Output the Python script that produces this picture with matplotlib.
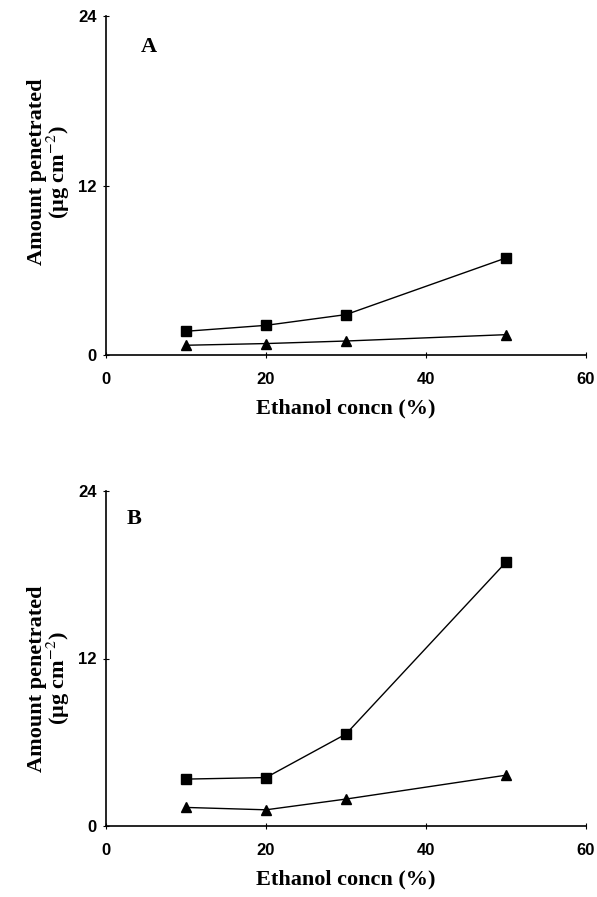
import matplotlib
matplotlib.use('Agg')
import matplotlib.pyplot as plt

plt.rcParams['mathtext.fontset'] = 'stix'

# ethanol concentration (%)
conc = [10, 20, 30, 50]

# panel A
a_square = [1.68, 2.10, 2.86, 6.87]
a_triangle = [0.69, 0.81, 0.99, 1.44]

# panel B
b_square = [3.36, 3.47, 6.59, 18.9]
b_triangle = [1.33, 1.16, 1.93, 3.64]

xticks = [0, 20, 40, 60]
yticks = [0, 12, 24]

fig = plt.figure(figsize=(5.97, 8.97), dpi=100)
W, H = 597.0, 897.0

serif = ['Liberation Serif', 'DejaVu Serif']
sans = ['Liberation Sans', 'DejaVu Sans']


def panel(rect, sq, tri, letter, letter_xy, ylab_y):
    ax = fig.add_axes(rect)
    ax.plot(conc, sq, color='black', lw=1.0, marker='s', ms=7, zorder=3)
    ax.plot(conc, tri, color='black', lw=1.0, marker='^', ms=7, zorder=3)
    ax.set_xlim(0, 60)
    ax.set_ylim(0, 24)
    ax.set_xticks(xticks)
    ax.set_yticks(yticks)
    for s in ['top', 'right']:
        ax.spines[s].set_visible(False)
    for s in ['left', 'bottom']:
        ax.spines[s].set_linewidth(1.2)
    ax.tick_params(axis='x', direction='inout', length=5, width=0.8, pad=10)
    ax.tick_params(axis='y', direction='inout', length=5, width=0.8, pad=4)
    for lab in ax.get_xticklabels() + ax.get_yticklabels():
        lab.set_family(sans)
        lab.set_fontweight('bold')
        lab.set_fontsize(12)
    ax.set_xlabel('Ethanol concn (%)', family=serif, fontweight='bold',
                  fontsize=16, labelpad=8)
    ax.set_ylabel('Amount penetrated\n(\u00b5g cm$^{-2}$)', family=serif,
                  fontweight='bold', fontsize=16, linespacing=0.9)
    ax.yaxis.set_label_coords(-0.07, ylab_y)
    ax.text(letter_xy[0], letter_xy[1], letter, transform=fig.transFigure,
            family=serif, fontweight='bold', fontsize=16, ha='center', va='center')
    return ax


left = 106 / W
width = (586 - 106) / W
panel([left, (H - 355) / H, width, (355 - 16) / H], a_square, a_triangle,
      'A', (149 / W, 1 - 47 / H), 0.54)
panel([left, (H - 826) / H, width, (826 - 491) / H], b_square, b_triangle,
      'B', (134 / W, 1 - 519 / H), 0.44)

fig.savefig('out.png', dpi=100)
